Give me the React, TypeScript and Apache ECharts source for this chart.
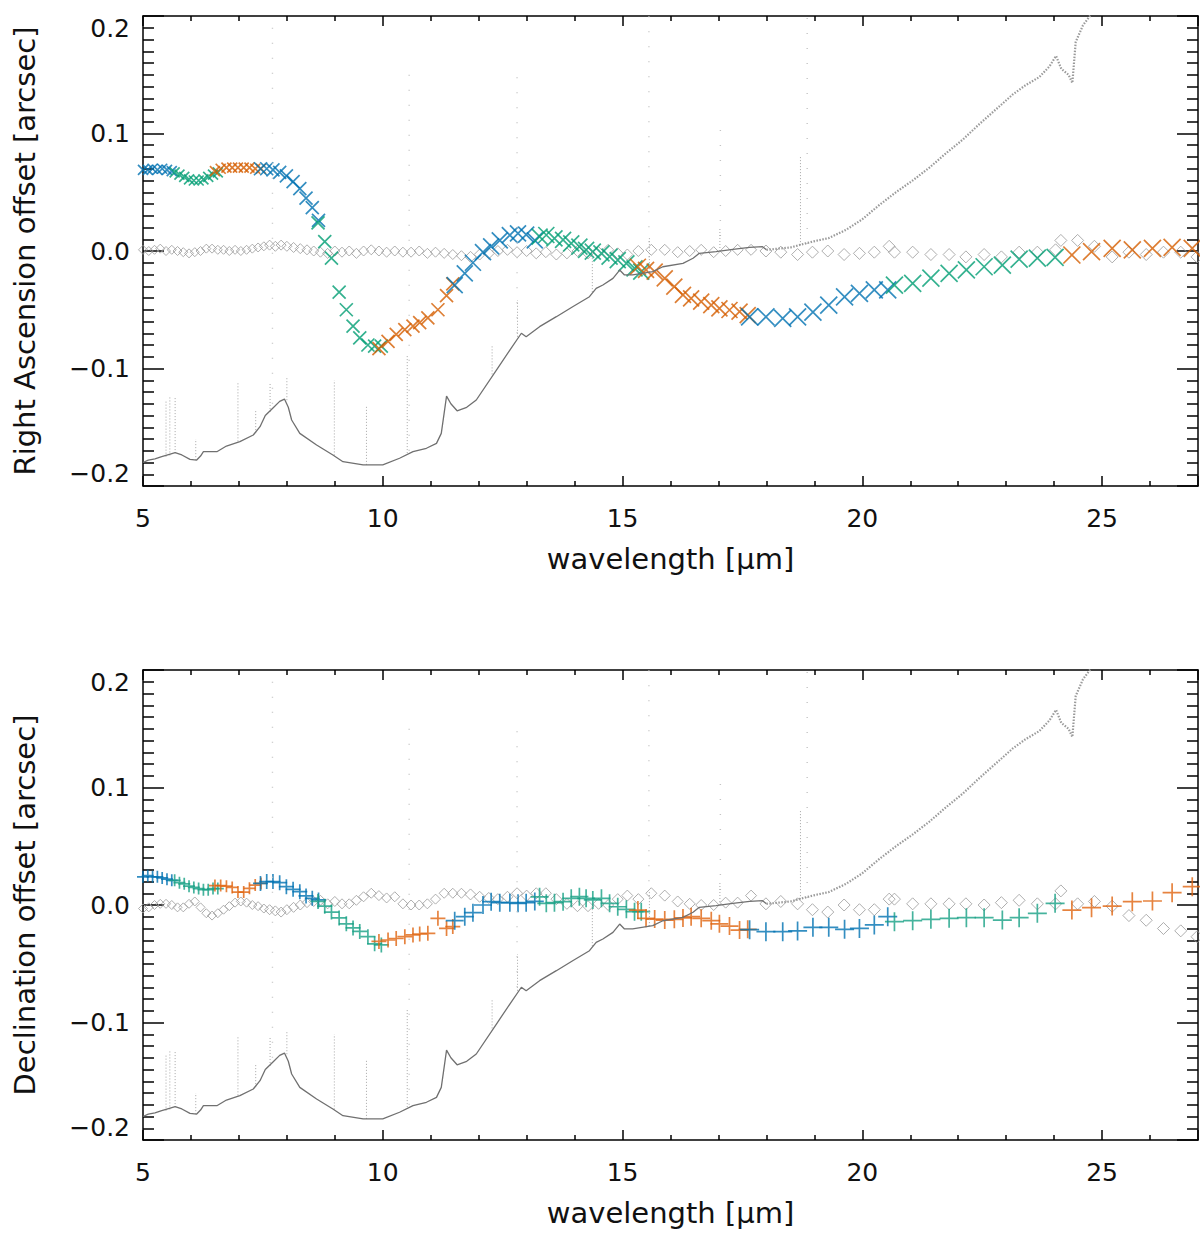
import React, { useEffect, useRef } from "react";
import * as echarts from "echarts";

// MRS sub-bands, A = blue, B = green, C = orange
const BAND_NAMES = ["1A", "1B", "1C", "2A", "2B", "2C", "3A", "3B", "3C", "4A", "4B", "4C"];
const SUBBAND_COLORS = ["#0072B2", "#009E73", "#D55E00"];
const SUBBAND_COLORS_DEC = ["#0072B2", "#17A085", "#E0640F"];
const CHANNEL_SIZES = [10, 13, 16, 17];

const bandWavelengths: number[][] = [
  [5.0, 5.1, 5.2, 5.3, 5.4, 5.5, 5.6],
  [5.66, 5.76, 5.86, 5.96, 6.06, 6.16, 6.26, 6.36, 6.46, 6.56],
  [6.5, 6.62, 6.74, 6.86, 6.98, 7.1, 7.22, 7.34, 7.46],
  [7.45, 7.58, 7.71, 7.85, 7.99, 8.13, 8.27, 8.4, 8.53, 8.66],
  [8.65, 8.79, 8.93, 9.09, 9.24, 9.38, 9.52, 9.69, 9.83, 9.97],
  [9.92, 10.11, 10.28, 10.46, 10.63, 10.77, 10.94, 11.15, 11.33, 11.46],
  [11.5, 11.71, 11.88, 12.09, 12.26, 12.44, 12.65, 12.82, 12.99, 13.17],
  [13.27, 13.41, 13.58, 13.76, 13.93, 14.1, 14.24, 14.38, 14.56, 14.73, 14.9, 15.08, 15.25, 15.39],
  [15.32, 15.49, 15.67, 15.88, 16.08, 16.26, 16.43, 16.64, 16.85, 17.02, 17.23, 17.44, 17.61],
  [17.65, 17.99, 18.34, 18.65, 18.97, 19.3, 19.63, 19.94, 20.25, 20.53],
  [20.67, 21.05, 21.43, 21.81, 22.17, 22.54, 22.92, 23.27, 23.65, 24.02],
  [24.37, 24.78, 25.21, 25.63, 26.05, 26.46, 26.88],
];

const raOffset: number[][] = [
  [0.069, 0.069, 0.07, 0.069, 0.07, 0.069, 0.068],
  [0.067, 0.065, 0.063, 0.061, 0.06, 0.06, 0.061, 0.063, 0.065, 0.067],
  [0.068, 0.07, 0.071, 0.071, 0.071, 0.071, 0.071, 0.07, 0.07],
  [0.07, 0.07, 0.069, 0.067, 0.064, 0.059, 0.053, 0.045, 0.037, 0.026],
  [0.024, 0.008, -0.006, -0.035, -0.05, -0.064, -0.074, -0.08, -0.081, -0.081],
  [-0.083, -0.077, -0.071, -0.067, -0.064, -0.061, -0.057, -0.05, -0.038, -0.028],
  [-0.029, -0.019, -0.01, -0.001, 0.004, 0.009, 0.0135, 0.015, 0.014, 0.009],
  [0.0122, 0.0136, 0.0108, 0.0094, 0.0065, 0.0037, 0.0009, -0.0006, -0.002, -0.0048, -0.0077, -0.0105, -0.0148, -0.0176],
  [-0.0134, -0.016, -0.0176, -0.0233, -0.0304, -0.0374, -0.0403, -0.0431, -0.046, -0.0488, -0.0502, -0.0516, -0.0545],
  [-0.056, -0.056, -0.0573, -0.056, -0.052, -0.046, -0.039, -0.036, -0.033, -0.033],
  [-0.029, -0.0275, -0.023, -0.019, -0.016, -0.0134, -0.012, -0.007, -0.006, -0.0054],
  [-0.0034, -0.0006, 0.0023, 0.0009, 0.0023, 0.0031, 0.0023],
];

const decOffset: number[][] = [
  [0.024, 0.025, 0.024, 0.024, 0.023, 0.022, 0.021],
  [0.021, 0.019, 0.018, 0.016, 0.015, 0.014, 0.013, 0.013, 0.014, 0.014],
  [0.0165, 0.0165, 0.016, 0.015, 0.011, 0.011, 0.0142, 0.017, 0.0184],
  [0.0184, 0.0199, 0.0199, 0.019, 0.0156, 0.0133, 0.0113, 0.0077, 0.0057, 0.0043],
  [0.003, -0.001, -0.006, -0.011, -0.016, -0.0195, -0.0225, -0.027, -0.033, -0.034],
  [-0.031, -0.0298, -0.0285, -0.027, -0.0255, -0.0247, -0.0241, -0.0113, -0.0199, -0.0184],
  [-0.0133, -0.0099, -0.0065, 0.0, 0.0028, 0.002, 0.002, 0.0014, 0.002, 0.003],
  [0.007, 0.0014, 0.002, 0.0028, 0.0057, 0.0071, 0.0057, 0.0043, 0.0057, 0.0014, -0.0015, -0.0037, -0.0057, -0.0057],
  [-0.0043, -0.0113, -0.012, -0.0128, -0.0122, -0.011, -0.0099, -0.0113, -0.0133, -0.016, -0.0179, -0.0213, -0.0207],
  [-0.021, -0.0227, -0.0227, -0.0221, -0.019, -0.019, -0.0207, -0.0199, -0.017, -0.0099],
  [-0.0142, -0.0133, -0.0122, -0.0113, -0.0108, -0.0108, -0.0128, -0.0108, -0.0071, 0.0014],
  [-0.0043, -0.0023, -0.0009, 0.0028, 0.0034, 0.0105, 0.0156],
];

// reference measurement (open diamonds)
const refWavelengths: number[] = [
  5.0, 5.12, 5.24, 5.36, 5.48, 5.6, 5.72, 5.84, 5.96, 6.08,
  6.2, 6.32, 6.44, 6.56, 6.68, 6.8, 6.92, 7.04, 7.16, 7.28,
  7.4, 7.52, 7.64, 7.76, 7.88, 8.0, 8.14, 8.28, 8.42, 8.56,
  8.7, 8.85, 9.0, 9.15, 9.3, 9.45, 9.6, 9.76, 9.92, 10.08,
  10.25, 10.42, 10.59, 10.76, 10.93, 11.1, 11.28, 11.46, 11.64, 11.83,
  12.02, 12.21, 12.4, 12.6, 12.8, 13.0, 13.2, 13.4, 13.62, 13.84,
  14.06, 14.28, 14.5, 14.7, 14.9, 15.1, 15.33, 15.6, 15.88, 16.15,
  16.4, 16.64, 16.9, 17.15, 17.4, 17.68, 17.99, 18.3, 18.65, 18.96,
  19.28, 19.62, 19.94, 20.25, 20.56, 20.67, 21.05, 21.43, 21.81, 22.16,
  22.54, 22.9, 23.27, 23.65, 24.03, 24.14, 24.49, 24.84, 25.21, 25.56,
  25.92, 26.28, 26.64, 26.98,
];

const raReference: number[] = [
  0.001, 0.0, 0.001, 0.002, 0.0, 0.001, 0.0, -0.001, -0.002, -0.001,
  0.0, 0.002, 0.002, 0.001, 0.001, 0.0, 0.001, 0.0, 0.001, 0.002,
  0.003, 0.004, 0.005, 0.004, 0.005, 0.004, 0.003, 0.002, 0.001, 0.0,
  -0.001, -0.002, 0.0, -0.001, 0.0, -0.002, 0.0, 0.001, 0.0, -0.001,
  0.0, -0.001, -0.001, 0.0, -0.002, -0.001, -0.002, -0.003, -0.004, -0.005,
  -0.003, -0.002, 0.0, 0.001, -0.001, 0.0, -0.002, -0.001, -0.003, -0.002,
  0.0, -0.002, -0.001, 0.001, -0.002, -0.003, 0.0, 0.001, 0.001, -0.001,
  0.0, 0.001, -0.001, 0.0, 0.001, 0.001, 0.0, -0.001, -0.003, -0.001,
  0.0, -0.003, -0.002, -0.001, 0.004, -0.001, -0.001, -0.003, -0.003, -0.005,
  -0.003, -0.005, -0.001, -0.001, 0.001, 0.009, 0.009, 0.004, -0.005, -0.001,
  -0.003, -0.001, -0.001, -0.005,
];

const decReference: number[] = [
  -0.003, -0.002, 0.0, 0.001, 0.001, 0.0, -0.002, -0.002, 0.001, 0.003,
  -0.002, -0.007, -0.009, -0.007, -0.004, -0.001, 0.002, 0.003, 0.002, 0.0,
  -0.001, -0.003, -0.004, -0.005, -0.006, -0.004, -0.002, 0.0, 0.002, 0.003,
  0.004, 0.001, 0.003, 0.001, 0.001, 0.004, 0.007, 0.01, 0.008, 0.006,
  0.007, 0.001, 0.0, 0.0, 0.001, 0.005, 0.01, 0.01, 0.01, 0.009,
  0.007, 0.006, 0.005, 0.007, 0.01, 0.008, 0.01, 0.01, 0.005, 0.001,
  -0.001, -0.001, 0.001, 0.0, 0.005, 0.008, 0.005, 0.01, 0.008, 0.003,
  0.001, 0.0, 0.0, 0.002, 0.002, 0.008, 0.001, 0.003, 0.001, -0.004,
  -0.006, 0.0, -0.004, -0.004, 0.005, 0.005, 0.001, 0.001, 0.001, 0.001,
  0.0, 0.002, 0.004, 0.001, 0.001, 0.012, 0.001, 0.003, -0.001, -0.009,
  -0.013, -0.02, -0.022, -0.027,
];

// scaled spectrum drawn behind the offsets
const spectrumWl: number[] = [
  5.0, 5.11, 5.25, 5.39, 5.55, 5.67, 5.81, 5.98, 6.12, 6.2, 6.26, 6.54, 6.74, 7.02, 7.3, 7.44,
  7.55, 7.7, 7.85, 7.95, 8.03, 8.1, 8.27, 8.62, 8.96, 9.17, 9.59, 10.0, 10.35, 10.63, 10.91,
  11.12, 11.22, 11.26, 11.33, 11.42, 11.55, 11.75, 11.95, 12.37, 12.65, 12.89, 12.99, 13.27,
  13.62, 13.96, 14.31, 14.45, 14.59, 14.8, 14.94, 15.04, 15.21, 15.63, 15.84, 16.26, 16.47,
  16.6, 16.95, 17.3, 17.65, 17.92, 18.0,
];
const spectrumVal: number[] = [
  -0.18, -0.178, -0.177, -0.175, -0.173, -0.1716, -0.1736, -0.1773, -0.1779, -0.1745, -0.1708,
  -0.1708, -0.166, -0.1623, -0.1566, -0.1495, -0.14, -0.134, -0.128, -0.126, -0.133, -0.1438,
  -0.1552, -0.1651, -0.1736, -0.1793, -0.1821, -0.1821, -0.1764, -0.1708, -0.1679, -0.1637,
  -0.1552, -0.1438, -0.1235, -0.13, -0.136, -0.133, -0.1268, -0.1013, -0.0843, -0.07, -0.073,
  -0.0644, -0.0559, -0.0474, -0.0389, -0.0318, -0.0289, -0.0233, -0.0162, -0.0204, -0.0204,
  -0.0176, -0.0134, -0.0105, -0.0062, -0.002, -0.0006, 0.0014, 0.0031, 0.0037, 0.001,
];
const noisyWl: number[] = [
  18.0, 18.5, 18.96, 19.3, 19.66, 20.0, 20.35, 20.7, 21.05, 21.4, 21.74, 22.1, 22.44, 22.8,
  23.13, 23.4, 23.69, 23.9, 24.04, 24.15, 24.3, 24.38, 24.45, 24.6, 24.8,
];
const noisyVal: number[] = [
  0.001, 0.003, 0.008, 0.011, 0.018, 0.027, 0.039, 0.05, 0.06, 0.071, 0.083, 0.095, 0.108,
  0.121, 0.133, 0.141, 0.148, 0.157, 0.166, 0.155, 0.15, 0.143, 0.178, 0.192, 0.203,
];

// emission-line spikes: wavelength, foot, top
const spikeWl: number[] = [5.48, 5.56, 5.67, 6.1, 6.98, 7.35, 7.65, 8.0, 8.99, 9.66, 10.51, 12.28, 12.81, 14.37, 15.56, 17.03, 18.71];
const spikeBase: number[] = [-0.175, -0.174, -0.172, -0.178, -0.162, -0.155, -0.137, -0.127, -0.174, -0.182, -0.172, -0.105, -0.073, -0.035, -0.018, 0.0, 0.005];
const spikeTop: number[] = [-0.128, -0.124, -0.125, -0.16, -0.112, -0.135, -0.112, -0.108, -0.11, -0.131, -0.088, -0.08, -0.042, 0.0, 0.012, 0.02, 0.08];
const faintWl: number[] = [7.7, 10.55, 12.8, 15.55, 17.04, 18.85];
const faintBase: number[] = [-0.13, -0.17, -0.07, -0.018, 0.0, 0.006];
const faintTop: number[] = [0.2, 0.16, 0.15, 0.2, 0.11, 0.2];

const X_TICK_INTERVAL = 5;
const Y_TICK_INTERVAL = 0.1;

const FONT = "DejaVu Sans";
const CROSS = "path://M0 0L10 10M10 0L0 10";
const PLUS = "path://M5 0L5 10M0 5L10 5";

const yLabel = (v: number) => {
  if (Math.abs(v) < 1e-9) return "0.0";
  return (v < 0 ? "\u2212" : "") + Math.abs(v).toFixed(1);
};

const buildPanel = (p: number) => {
  const axisIdx = p * 2;
  const series: any[] = [];
  const common = { xAxisIndex: axisIdx, yAxisIndex: axisIdx, silent: true, emphasis: { disabled: true } };

  faintWl.forEach((w, i) => {
    series.push({
      ...common,
      type: "line",
      symbol: "none",
      data: [[w, faintBase[i]], [w, faintTop[i]]],
      lineStyle: { color: "#c4c4c4", width: 1.4, type: [1, 14] },
    });
  });
  spikeWl.forEach((w, i) => {
    series.push({
      ...common,
      type: "line",
      symbol: "none",
      data: [[w, spikeBase[i]], [w, spikeTop[i]]],
      lineStyle: { color: "#a6a6a6", width: 1, type: [1, 2] },
    });
  });
  series.push({
    ...common,
    type: "line",
    symbol: "none",
    data: spectrumWl.map((w, i) => [w, spectrumVal[i]]),
    lineStyle: { color: "#707070", width: 1.3 },
  });
  series.push({
    ...common,
    type: "line",
    symbol: "none",
    data: noisyWl.map((w, i) => [w, noisyVal[i]]),
    lineStyle: { color: "#9a9a9a", width: 2.2, type: [1.5, 1.5] },
  });

  const ref = p === 0 ? raReference : decReference;
  series.push({
    ...common,
    type: "scatter",
    symbol: "diamond",
    symbolSize: (v: number[]) => (v[0] < 7.6 ? 9 : v[0] < 11.7 ? 10 : v[0] < 17.7 ? 11 : 12),
    data: refWavelengths.map((w, i) => [w, ref[i]]),
    itemStyle: { color: "rgba(0,0,0,0)", borderColor: "#9a9a9a", borderWidth: 1 },
  });

  const vals = p === 0 ? raOffset : decOffset;
  const colors = p === 0 ? SUBBAND_COLORS : SUBBAND_COLORS_DEC;
  BAND_NAMES.forEach((name, b) => {
    series.push({
      ...common,
      name,
      type: "scatter",
      symbol: p === 0 ? CROSS : PLUS,
      symbolSize: CHANNEL_SIZES[Math.floor(b / 3)] + (p === 0 ? 0 : 2),
      data: bandWavelengths[b].map((w, j) => [w, vals[b][j]]),
      itemStyle: { color: "rgba(0,0,0,0)", borderColor: colors[b % 3], borderWidth: 1.7 },
    });
  });
  return series;
};

const App: React.FC = () => {
  const chartRef = useRef<HTMLDivElement | null>(null);

  useEffect(() => {
    if (!chartRef.current) return;
    const chart = echarts.init(chartRef.current, undefined, { renderer: "svg" });

    const lineStyle = { color: "#000", width: 1.5 };
    const xAxisFor = (g: number, top: boolean) => ({
      type: "value",
      gridIndex: g,
      position: top ? "top" : "bottom",
      min: 5,
      max: 27,
      interval: X_TICK_INTERVAL,
      axisLine: { show: true, onZero: false, lineStyle },
      axisTick: { show: true, inside: true, length: 10, lineStyle },
      minorTick: { show: true, splitNumber: 5, length: 5, lineStyle },
      splitLine: { show: false },
      axisLabel: {
        show: !top,
        margin: 20,
        fontSize: 25,
        color: "#111",
        fontFamily: FONT,
        showMaxLabel: false,
      },
      name: top ? "" : "wavelength [μm]",
      nameLocation: "middle",
      nameGap: 58,
      nameTextStyle: { fontSize: 29, color: "#111", fontFamily: FONT },
    });
    const yAxisFor = (g: number, right: boolean, title: string) => ({
      type: "value",
      gridIndex: g,
      position: right ? "right" : "left",
      min: -0.2,
      max: 0.2,
      interval: Y_TICK_INTERVAL,
      axisLine: { show: true, onZero: false, lineStyle },
      axisTick: { show: true, inside: true, length: 21, lineStyle },
      minorTick: { show: true, splitNumber: 10, length: 11, lineStyle },
      splitLine: { show: false },
      axisLabel: {
        show: !right,
        margin: 13,
        fontSize: 25,
        color: "#111",
        fontFamily: FONT,
        formatter: yLabel,
        verticalAlignMaxLabel: "top",
        verticalAlignMinLabel: "bottom",
      },
      name: right ? "" : title,
      nameLocation: "middle",
      nameGap: 104,
      nameTextStyle: { fontSize: 29, color: "#111", fontFamily: FONT },
    });

    const option: any = {
      animation: false,
      backgroundColor: "#fff",
      grid: [
        { left: 143, top: 16, width: 1055, height: 470 },
        { left: 143, top: 670, width: 1055, height: 470 },
      ],
      xAxis: [xAxisFor(0, false), xAxisFor(0, true), xAxisFor(1, false), xAxisFor(1, true)],
      yAxis: [
        yAxisFor(0, false, "Right Ascension offset [arcsec]"),
        yAxisFor(0, true, ""),
        yAxisFor(1, false, "Declination offset [arcsec]"),
        yAxisFor(1, true, ""),
      ],
      series: [...buildPanel(0), ...buildPanel(1)],
    };

    chart.setOption(option);
    return () => chart.dispose();
  }, []);

  return (
    <div
      ref={chartRef}
      style={{ position: "fixed", left: 0, top: 0, width: 1200, height: 1235, background: "#fff" }}
    />
  );
};

export default App;
